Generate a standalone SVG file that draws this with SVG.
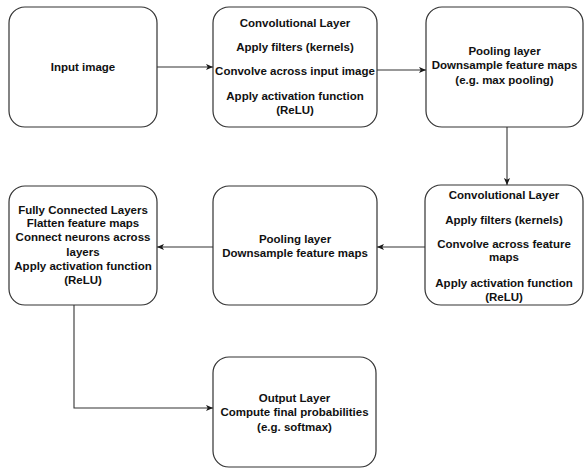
<svg xmlns="http://www.w3.org/2000/svg" width="585" height="468" viewBox="0 0 585 468">
<defs>
<marker id="ah" viewBox="0 0 8 8" refX="8" refY="4" markerWidth="7" markerHeight="7" markerUnits="userSpaceOnUse" orient="auto">
<path d="M0,0.5 L8,4 L0,7.5 L2,4 Z" fill="#1a1a1a"/>
</marker>
<style>
.box{fill:#ffffff;stroke:#333333;stroke-width:1.2}
.t{font-family:"Liberation Sans",Arial,sans-serif;font-weight:bold;font-size:11.5px;fill:#111111;text-anchor:middle}
.c{fill:none;stroke:#333333;stroke-width:1.1;marker-end:url(#ah)}
</style>
</defs>
<rect width="585" height="468" fill="#ffffff"/>
<g id="connectors">
<path class="c" d="M157,67 H213"/>
<path class="c" d="M377,70 H426"/>
<path class="c" d="M507,127 V185"/>
<path class="c" d="M425,247 H377"/>
<path class="c" d="M213,247 H157"/>
<path class="c" d="M74,305 V408 H213"/>
</g>
<g id="input-image">
<rect class="box" x="9" y="7" width="148" height="120" rx="16"/>
<text class="t" x="83" y="71">Input image</text>
</g>
<g id="conv-layer-1">
<rect class="box" x="213" y="7" width="164" height="120" rx="16"/>
<text class="t" x="295" y="27">Convolutional Layer</text>
<text class="t" x="295" y="51">Apply filters (kernels)</text>
<text class="t" x="295" y="75">Convolve across input image</text>
<text class="t" x="295" y="100">Apply activation function</text>
<text class="t" x="295" y="114">(ReLU)</text>
</g>
<g id="pooling-layer-1">
<rect class="box" x="426" y="7" width="157" height="120" rx="16"/>
<text class="t" x="504.5" y="55">Pooling layer</text>
<text class="t" x="504.5" y="69">Downsample feature maps</text>
<text class="t" x="504.5" y="84">(e.g. max pooling)</text>
</g>
<g id="conv-layer-2">
<rect class="box" x="425" y="185" width="158" height="120" rx="16"/>
<text class="t" x="504" y="199">Convolutional Layer</text>
<text class="t" x="504" y="224">Apply filters (kernels)</text>
<text class="t" x="504" y="248">Convolve across feature</text>
<text class="t" x="504" y="261">maps</text>
<text class="t" x="504" y="287">Apply activation function</text>
<text class="t" x="504" y="301">(ReLU)</text>
</g>
<g id="pooling-layer-2">
<rect class="box" x="213" y="186" width="164" height="119" rx="16"/>
<text class="t" x="295" y="243">Pooling layer</text>
<text class="t" x="295" y="257">Downsample feature maps</text>
</g>
<g id="fully-connected">
<rect class="box" x="9" y="186" width="148" height="119" rx="16"/>
<text class="t" x="83" y="214">Fully Connected Layers</text>
<text class="t" x="83" y="227">Flatten feature maps</text>
<text class="t" x="83" y="241">Connect neurons across</text>
<text class="t" x="83" y="256">layers</text>
<text class="t" x="83" y="270">Apply activation function</text>
<text class="t" x="83" y="284">(ReLU)</text>
</g>
<g id="output-layer">
<rect class="box" x="213" y="357" width="163" height="110" rx="16"/>
<text class="t" x="294.5" y="402">Output Layer</text>
<text class="t" x="294.5" y="416">Compute final probabilities</text>
<text class="t" x="294.5" y="431">(e.g. softmax)</text>
</g>
</svg>
